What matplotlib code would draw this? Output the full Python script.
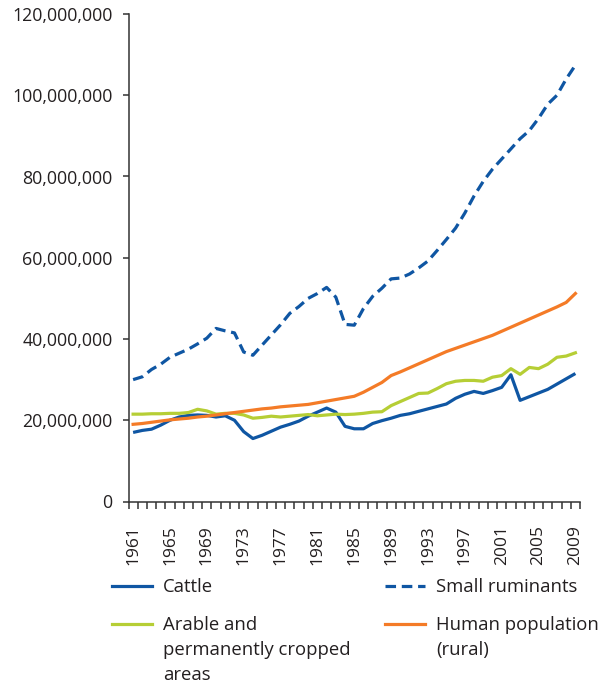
import matplotlib
matplotlib.use("Agg")
import matplotlib.pyplot as plt
from matplotlib.lines import Line2D
import numpy as np

plt.rcParams['font.family'] = ['Open Sans', 'DejaVu Sans']

years = list(range(1961, 2010))

cattle = [17.0, 17.5, 17.8, 18.8, 20.0, 20.8, 21.2, 21.3, 21.2, 20.8,
          21.1, 20.0, 17.2, 15.5, 16.3, 17.3, 18.3, 19.0, 19.8, 21.0,
          22.0, 23.0, 22.0, 18.5, 17.9, 17.9, 19.2, 19.9, 20.5, 21.2,
          21.6, 22.2, 22.8, 23.4, 24.0, 25.4, 26.4, 27.1, 26.6, 27.3,
          28.1, 31.2, 24.9, 25.8, 26.7, 27.6, 28.9, 30.2, 31.5]

small_ruminants = [30.0, 30.7, 32.5, 33.8, 35.5, 36.5, 37.5, 38.8, 40.2, 42.6,
                   42.0, 41.5, 36.8, 36.0, 38.5, 41.0, 43.5, 46.3, 48.0, 50.0,
                   51.2, 52.7, 50.3, 43.6, 43.4, 47.5, 50.5, 52.5, 54.8, 55.0,
                   56.0, 57.5, 59.2, 61.8, 64.5, 67.3, 71.0, 75.2, 78.8, 81.8,
                   84.3, 86.8, 89.3, 91.3, 94.3, 97.8, 100.0, 104.0, 107.4]

arable = [21.5, 21.5, 21.6, 21.6, 21.7, 21.7, 21.9, 22.7, 22.3, 21.5,
          21.7, 21.7, 21.3, 20.5, 20.7, 21.0, 20.8, 21.0, 21.2, 21.4,
          21.1, 21.3, 21.5, 21.4, 21.5, 21.7, 22.0, 22.1, 23.6, 24.6,
          25.6, 26.6, 26.7, 27.8, 29.0, 29.6, 29.8, 29.8, 29.6, 30.6,
          31.0, 32.7, 31.3, 33.0, 32.7, 33.8, 35.5, 35.8, 36.6]

human = [19.0, 19.2, 19.5, 19.8, 20.1, 20.3, 20.5, 20.8, 21.0, 21.3,
         21.6, 21.9, 22.2, 22.5, 22.8, 23.0, 23.3, 23.5, 23.7, 23.9,
         24.3, 24.7, 25.1, 25.5, 25.9, 26.9, 28.1, 29.3, 31.0, 31.9,
         32.9, 33.9, 34.9, 35.9, 36.9, 37.7, 38.5, 39.3, 40.1, 40.9,
         41.9, 42.9, 43.9, 44.9, 45.9, 46.9, 47.9, 49.0, 51.2]

label_years = list(range(1961, 2010, 4))
y_ticks = [0, 20e6, 40e6, 60e6, 80e6, 100e6, 120e6]

blue = '#0F56A3'
green = '#B6CE35'
orange = '#F47B27'

fig = plt.figure(figsize=(6.05, 6.86), dpi=100)
ax = fig.add_axes([128.5 / 605, 1 - 501.5 / 686, (580 - 128.5) / 605, (501.5 - 14) / 686])

x = np.arange(len(years))
scale = 1e6
lw = 2.3
ax.plot(x, np.array(cattle) * scale, color=blue, lw=lw, solid_capstyle='butt')
ax.plot(x, np.array(small_ruminants) * scale, color=blue, lw=lw,
        linestyle=(0, (3.3, 1.8)), dash_capstyle='butt')
ax.plot(x, np.array(arable) * scale, color=green, lw=lw)
ax.plot(x, np.array(human) * scale, color=orange, lw=lw)

ax.set_xlim(-0.5, len(years) - 0.5)
ax.set_ylim(0, 120e6)

for s in ['top', 'right']:
    ax.spines[s].set_visible(False)
for s in ['left', 'bottom']:
    ax.spines[s].set_color('#333333')
    ax.spines[s].set_linewidth(1.1)

ax.set_yticks(y_ticks)
ax.set_yticklabels([f"{int(v):,}" for v in y_ticks], fontsize=12.8, color='#231F20')
ax.tick_params(axis='y', direction='out', length=4.5, width=1.1, color='#333333', pad=7)

ax.set_xticks([years.index(yv) for yv in label_years])
ax.set_xticklabels([str(yv) for yv in label_years], rotation=90, fontsize=12.5, color='#231F20')
ax.set_xticks(np.arange(-0.5, len(years)), minor=True)
ax.tick_params(axis='x', which='major', length=0, pad=17)
ax.tick_params(axis='x', which='minor', direction='out', length=5, width=1.1, color='#333333')

# legend
legend_labels = ['Cattle', 'Small ruminants', 'Arable and\npermanently cropped\nareas', 'Human population\n(rural)']
legend_styles = [(blue, '-'), (blue, (0, (3.3, 1.8))), (green, '-'), (orange, '-')]
legend_pos = [(112, 586), (385, 586), (112, 624), (385, 624)]
for lab, (c, ls), (px, py) in zip(legend_labels, legend_styles, legend_pos):
    fy = 1 - py / 686
    fig.add_artist(Line2D([px / 605, (px + 40) / 605], [fy, fy], color=c, lw=2.3,
                          linestyle=ls, transform=fig.transFigure))
    fig.text((px + 51) / 605, fy + 0.0115, lab, fontsize=13.3, color='#231F20',
             va='top', ha='left', linespacing=1.5)

fig.savefig('out.png', dpi=100)
